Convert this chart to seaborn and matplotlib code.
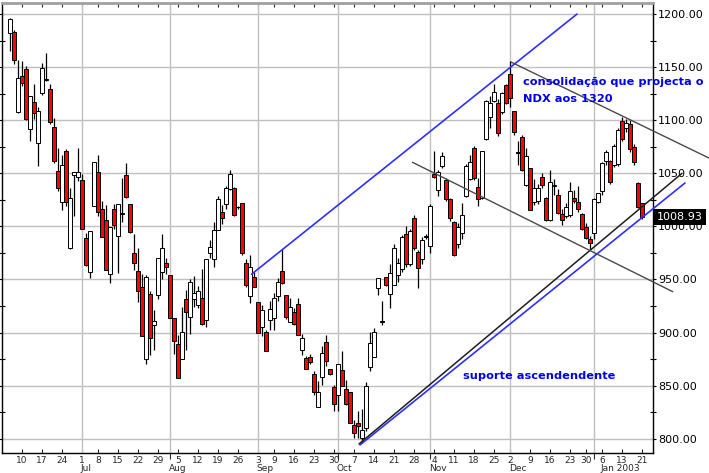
import matplotlib
matplotlib.use("Agg")

import numpy as np
import pandas as pd
import matplotlib.pyplot as plt
import matplotlib.transforms as mtransforms
import seaborn as sns

# trading days shown on the chart (NDX, Jun 2002 - Jan 2003)
holidays = ["2002-07-04", "2002-09-02", "2002-11-28", "2002-12-25", "2003-01-01", "2003-01-20"]
dates = pd.bdate_range("2002-06-05", "2003-01-21", freq="C", holidays=holidays)

# OHLC
opens = [1182, 1183, 1108, 1142, 1148, 1092, 1117, 1079, 1126, 1139, 1129, 1094, 1052, 1023, 1071, 980, 1048, 1047,
         1044, 989, 957, 1019, 1051, 1016, 1006, 955, 1016, 991, 1013, 1048, 1021, 975, 958, 943, 875, 936, 907, 935, 957, 966,
         954, 914, 889, 875, 932, 915, 932, 926, 933, 912, 975, 969, 997, 1014, 1021, 1035, 1036, 1018, 1022, 966, 934, 952,
         929, 905, 901, 912, 914, 934, 958, 935, 910, 919, 927, 884, 876, 877, 861, 830, 858, 891, 866, 849,
         841, 865, 847, 844, 813, 815, 801, 810, 868, 877, 942, 911, 952, 936, 945, 954, 960, 993, 965, 1008, 976, 969, 991,
         982, 1049, 1034, 1057, 1044, 1026, 1004, 983, 994, 1029, 1045, 1074, 1037, 1027, 1082, 1103, 1118, 1116, 1108, 1133,
         1144, 1109, 1070, 1084, 1039, 1055, 1023, 1024, 1047, 1027, 1006, 1039, 1030, 1012, 1010, 1011, 1027, 1023, 1012, 999, 988,
         994, 1023, 1033, 1062, 1062, 1058, 1059, 1099, 1093, 1096, 1075, 1041, 1022]
highs = [1196, 1185, 1157, 1156, 1151, 1123, 1134, 1112, 1154, 1163, 1134, 1102, 1074, 1067, 1073, 1036, 1051, 1074,
         1049, 994, 996, 1061, 1067, 1024, 1020, 999, 1021, 1021, 1046, 1060, 1021, 993, 980, 955, 954, 939, 921, 970, 993, 970,
         954, 914, 898, 924, 940, 950, 953, 944, 960, 969, 987, 1004, 1029, 1020, 1038, 1053, 1037, 1019, 1022, 969, 973, 957,
         929, 926, 902, 930, 937, 951, 979, 935, 933, 923, 933, 899, 878, 880, 864, 854, 887, 898, 866, 851,
         870, 883, 855, 844, 818, 826, 828, 853, 901, 904, 951, 930, 952, 965, 983, 970, 992, 1000, 998, 1011, 978, 990, 993,
         1021, 1071, 1053, 1070, 1046, 1027, 1005, 1003, 1022, 1059, 1067, 1076, 1046, 1071, 1119, 1123, 1134, 1120, 1127, 1134,
         1156, 1109, 1080, 1086, 1074, 1055, 1045, 1040, 1050, 1028, 1053, 1045, 1035, 1016, 1022, 1042, 1034, 1038, 1013, 1003, 991,
         1027, 1031, 1061, 1072, 1063, 1078, 1093, 1103, 1101, 1100, 1078, 1042, 1022]
lows = [1165, 1153, 1107, 1132, 1100, 1080, 1101, 1057, 1124, 1137, 1096, 1060, 1033, 1015, 1019, 979, 1010, 1043,
        998, 963, 951, 1019, 1010, 990, 959, 947, 998, 956, 1004, 1027, 994, 959, 929, 897, 870, 879, 884, 932, 950, 955,
        914, 880, 857, 875, 884, 899, 924, 923, 907, 905, 970, 962, 997, 1002, 1016, 1034, 1010, 1016, 973, 943, 928, 943,
        900, 897, 883, 902, 902, 930, 946, 913, 910, 907, 898, 879, 866, 870, 841, 830, 851, 869, 860, 826,
        826, 850, 832, 815, 801, 801, 796, 807, 864, 877, 935, 907, 944, 923, 945, 948, 957, 962, 963, 978, 942, 965, 988,
        975, 1046, 1029, 1055, 1024, 1005, 972, 980, 988, 1028, 1044, 1044, 1019, 1026, 1081, 1093, 1117, 1085, 1106, 1115,
        1112, 1086, 1058, 1052, 1038, 1015, 1020, 1021, 1036, 1005, 1005, 1030, 1012, 1001, 1008, 1009, 1022, 1014, 997, 988, 979,
        988, 1022, 1030, 1058, 1040, 1056, 1057, 1080, 1089, 1070, 1058, 1017, 1007]
closes = [1195, 1157, 1140, 1135, 1101, 1123, 1107, 1109, 1149, 1138, 1098, 1062, 1036, 1058, 1023, 1027, 1051, 1051,
          998, 964, 996, 1061, 1014, 990, 959, 999, 1001, 1021, 1012, 1028, 995, 966, 939, 897, 952, 895, 911, 970, 980, 962,
          914, 892, 857, 901, 919, 948, 937, 939, 908, 969, 981, 997, 1026, 1008, 1036, 1049, 1011, 1018, 975, 945, 962, 943,
          900, 921, 883, 922, 933, 948, 947, 915, 924, 908, 898, 895, 866, 872, 844, 844, 881, 873, 861, 833,
          870, 850, 833, 815, 805, 812, 808, 850, 890, 901, 951, 910, 945, 956, 980, 966, 990, 965, 996, 980, 961, 987, 990,
          1019, 1047, 1051, 1066, 1026, 1008, 973, 999, 1011, 1057, 1061, 1046, 1026, 1071, 1118, 1116, 1127, 1088, 1126, 1116,
          1121, 1089, 1069, 1053, 1066, 1015, 1036, 1036, 1039, 1006, 1042, 1038, 1013, 1006, 1018, 1033, 1024, 1016, 998, 989, 984,
          1026, 1031, 1060, 1070, 1042, 1076, 1091, 1082, 1097, 1073, 1061, 1018, 1008.93]

# month starts for the vertical grid, and month captions under the day numbers
month_starts = ["2002-07-01", "2002-08-01", "2002-09-03", "2002-10-01", "2002-11-01", "2002-12-02", "2003-01-02"]
month_captions = ["Jul", "Aug", "Sep", "Oct", "Nov", "Dec", "Jan 2003"]
caption_dates = ["2002-07-01", "2002-08-01", "2002-09-03", "2002-10-01", "2002-11-01", "2002-12-02", "2003-01-06"]

df = pd.DataFrame({"date": dates, "open": opens, "high": highs, "low": lows, "close": closes})
df["x"] = np.arange(len(df))
pos = {d.strftime("%Y-%m-%d"): i for i, d in enumerate(dates)}

sns.set_style("white")
plt.rcParams["font.family"] = ["DejaVu Sans"]

fig = plt.figure(figsize=(7.09, 4.73), dpi=100)
ax = fig.add_axes([2 / 709, 20 / 473, 651 / 709, 450 / 473])

# wicks
ax.vlines(df["x"], df["low"], df["high"], color="black", lw=0.9, zorder=3)
# bodies
up = df["close"] >= df["open"]
body_lo = df[["open", "close"]].min(axis=1)
body_h = (df["close"] - df["open"]).abs().clip(lower=0.6)
ax.bar(df["x"][up], body_h[up], bottom=body_lo[up], width=0.8, color="white",
       edgecolor="black", linewidth=0.7, zorder=4)
ax.bar(df["x"][~up], body_h[~up], bottom=body_lo[~up], width=0.8, color="#ff0000",
       edgecolor="black", linewidth=0.7, zorder=4)

# trend lines
blue = "#2f2fff"
ax.plot([60.4, 141.75], [955, 1200], color=blue, lw=1.2, zorder=5, clip_on=False)
ax.plot([87.5, 168.75], [794.2, 1040.9], color=blue, lw=1.2, zorder=5, clip_on=False)
ax.plot([87.25, 168.0], [795.1, 1050.0], color="#1e1e1e", lw=1.1, zorder=5, clip_on=False)
ax.plot([125.25, 174.75], [1154.8, 1064.4], color="#4a4a4a", lw=1.0, zorder=5, clip_on=False)
ax.plot([100.6, 165.7], [1060.4, 938.5], color="#4a4a4a", lw=1.0, zorder=5, clip_on=False)

# annotations
ax.text(128.25, 1136, "consolidação que projecta o", color="#0000ee", fontsize=8.2,
        fontweight="bold", va="center", ha="left", zorder=6, clip_on=False)
ax.text(128.25, 1120, "NDX aos 1320", color="#0000ee", fontsize=8.2,
        fontweight="bold", va="center", ha="left", zorder=6)
ax.text(113.25, 859, "suporte ascendendente", color="#0000ee", fontsize=8.2,
        fontweight="bold", va="center", ha="left", zorder=6)

# axes ranges
ax.set_xlim(-2, 160.75)
ax.set_ylim(786.6, 1210.4)

# y axis on the right
ax.set_yticks(np.arange(800, 1201, 50))
ax.set_yticks(np.arange(800, 1201, 25), minor=True)
ax.yaxis.set_major_formatter(matplotlib.ticker.FormatStrFormatter("%.2f"))
ax.tick_params(axis="y", which="both", left=True, right=True, labelleft=False, labelright=True,
               direction="inout", length=5, width=0.8, labelsize=8, pad=1, colors="black")

# x axis: week labels at first trading day of each week
week_idx = [i for i in range(1, len(dates)) if dates[i].weekday() < dates[i - 1].weekday()]
ax.set_xticks(week_idx)
ax.set_xticklabels([str(dates[i].day) for i in week_idx])
ax.set_xticks([pos[d] for d in month_starts], minor=True)
ax.tick_params(axis="x", which="major", bottom=True, top=True, length=3, direction="in",
               labelsize=6.5, pad=2, width=0.8)
ax.tick_params(axis="x", which="minor", bottom=True, length=4, direction="out", width=0.8)

for cap, d in zip(month_captions, caption_dates):
    ax.annotate(cap, xy=(pos[d] - 0.3, 0), xycoords=("data", "axes fraction"),
                xytext=(0, -11.5), textcoords="offset points", ha="left", va="center",
                fontsize=6.5, annotation_clip=False)

# grid
ax.grid(False)
for y in np.arange(800, 1201, 50):
    ax.axhline(y, color="#c0c0c0", lw=1.0, zorder=1)
for d in month_starts:
    ax.axvline(pos[d], color="#c0c0c0", lw=1.0, zorder=1)

for side in ["left", "right", "bottom"]:
    ax.spines[side].set_color("black")
    ax.spines[side].set_linewidth(1.0)
ax.spines["top"].set_color("#a0a0a0")
ax.spines["top"].set_linewidth(2.0)

# last price tag
trans = mtransforms.blended_transform_factory(ax.transAxes, ax.transData)
ax.text(1.006, closes[-1], "%.2f" % closes[-1], transform=trans, ha="left", va="center",
        color="white", fontsize=8, zorder=10, clip_on=False,
        bbox=dict(boxstyle="square,pad=0.3", fc="black", ec="none"))

fig.savefig("out.png", dpi=100)
